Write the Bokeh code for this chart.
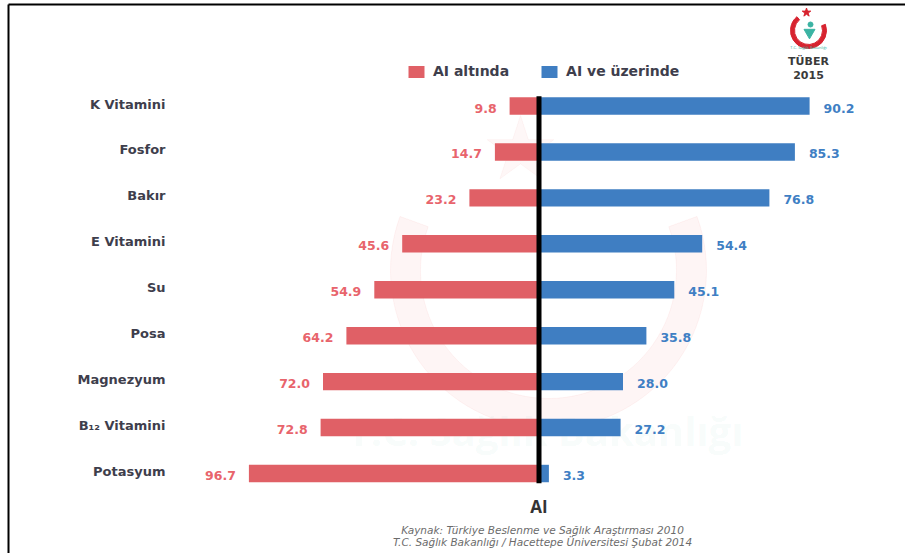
from bokeh.plotting import figure
from bokeh.models import Range1d, Legend, LegendItem
from bokeh.core.properties import value
from bokeh.embed import file_html
from bokeh.resources import INLINE

# ---- data ----
categories = ["K Vitamini", "Fosfor", "Bakır", "E Vitamini", "Su", "Posa",
              "Magnezyum", "B₁₂ Vitamini", "Potasyum"]
below_ai = [9.8, 14.7, 23.2, 45.6, 54.9, 64.2, 72.0, 72.8, 96.7]
above_ai = [90.2, 85.3, 76.8, 54.4, 45.1, 35.8, 28.0, 27.2, 3.3]
series_names = ["AI altında", "AI ve üzerinde"]
axis_title = "AI"
source_lines = ["Kaynak: Türkiye Beslenme ve Sağlık Araştırması 2010",
                "T.C. Sağlık Bakanlığı / Hacettepe Üniversitesi Şubat 2014"]
logo_lines = ["TÜBER", "2015"]

# ---- layout helpers (pixel -> data) ----
W, H = 905, 553
PX = 3.0          # pixels per percentage point
X0 = 538.5        # pixel position of zero
RS = 45.94        # pixels between rows
Y0 = 105.5        # pixel position of first row


def dx(px):
    return (px - X0) / PX


def dy(py):
    return (py - Y0) / RS


FONT = value("DejaVu Sans")
RED = "#e06066"
BLUE = "#3f7ec2"
RED_TXT = "#e8646c"
BLUE_TXT = "#3f7fc4"
DARK = "#3e3e4c"

p = figure(width=W, height=H, output_backend="svg", toolbar_location=None,
           x_axis_type=None, y_axis_type=None,
           x_range=Range1d(dx(0), dx(W)), y_range=Range1d(dy(H), dy(0)),
           min_border=0, outline_line_color=None)
p.grid.visible = False
p.background_fill_color = "white"
p.border_fill_color = "white"

# ---- faint watermark ----
p.annular_wedge(x=dx(548), y=dy(270), inner_radius=128, outer_radius=158,
                inner_radius_units="screen", outer_radius_units="screen",
                start_angle=160, end_angle=20, start_angle_units="deg",
                end_angle_units="deg", direction="anticlock",
                color="#e53935", alpha=0.05)
p.scatter(x=[dx(520)], y=[dy(150)], marker="star", size=70,
          color="#e53935", alpha=0.04)
p.text(x=[dx(545)], y=[dy(430)], text=["T.C. Sağlık Bakanlığı"],
       text_align="center", text_baseline="middle", text_font=value("Open Sans"),
       text_font_style="bold", text_font_size="40px", text_color="#2aa198",
       text_alpha=0.05)

# ---- frame lines ----
p.line(x=[dx(8), dx(W)], y=[dy(4), dy(4)], line_color="black", line_width=2)
p.line(x=[dx(8), dx(8)], y=[dy(4), dy(H)], line_color="black", line_width=2)

ys = list(range(len(categories)))
bar_h = 0.38

r_red = p.hbar(y=ys, left=[-v for v in below_ai], right=0, height=bar_h,
               fill_color=RED, line_color=None)
r_blue = p.hbar(y=ys, left=0, right=above_ai, height=bar_h,
                fill_color=BLUE, line_color=None)

# centre line
p.segment(x0=[0], x1=[0], y0=[ys[0] - bar_h / 2 - 0.02],
          y1=[ys[-1] + bar_h / 2 + 0.02], line_color="black", line_width=5)

# value labels
p.text(x=[-v for v in below_ai], y=ys, text=[f"{v:.1f}" for v in below_ai],
       x_offset=-13, y_offset=2, text_align="right", text_baseline="middle",
       text_font=FONT, text_font_style="bold", text_font_size="12.5px",
       text_color=RED_TXT)
p.text(x=above_ai, y=ys, text=[f"{v:.1f}" for v in above_ai],
       x_offset=14, y_offset=2, text_align="left", text_baseline="middle",
       text_font=FONT, text_font_style="bold", text_font_size="12.5px",
       text_color=BLUE_TXT)

# category labels
p.text(x=[dx(165)] * len(categories), y=ys, text=categories,
       y_offset=-2, text_align="right", text_baseline="middle",
       text_font=FONT, text_font_style="bold", text_font_size="13px",
       text_color=DARK)

# axis title and source
p.text(x=[0], y=[dy(506)], text=[axis_title], text_align="center",
       text_baseline="middle", text_font=value("Open Sans"), text_font_style="bold",
       text_font_size="17px", text_color="#333333")
p.text(x=[dx(542)] * 2, y=[dy(529), dy(541)], text=source_lines,
       text_align="center", text_baseline="middle", text_font=FONT,
       text_font_style="italic", text_font_size="10.5px", text_color="#6b6b6b")

# ---- logo ----
p.annular_wedge(x=dx(808), y=dy(30), inner_radius=14, outer_radius=18,
                inner_radius_units="screen", outer_radius_units="screen",
                start_angle=130, end_angle=20, start_angle_units="deg",
                end_angle_units="deg", direction="anticlock", color="#d7232f")
p.scatter(x=[dx(806)], y=[dy(12)], marker="star", size=9, color="#d7232f")
p.scatter(x=[dx(810)], y=[dy(24)], marker="circle", size=5, color="#3bb3a3")
p.scatter(x=[dx(809)], y=[dy(32)], marker="triangle", size=11, color="#3bb3a3",
          angle=3.14159)
p.text(x=[dx(808)], y=[dy(47)], text=["T.C. Sağlık Bakanlığı"],
       text_align="center", text_baseline="middle", text_font=value("Open Sans"),
       text_font_size="4px", text_color="#3bb3a3")
p.text(x=[dx(808)] * 2, y=[dy(61), dy(74)], text=logo_lines,
       text_align="center", text_baseline="middle", text_font=FONT,
       text_font_style="bold", text_font_size="11px", text_color="#3a3a3a")

# ---- legend ----
legend = Legend(items=[LegendItem(label=series_names[0], renderers=[r_red]),
                       LegendItem(label=series_names[1], renderers=[r_blue])],
                orientation="horizontal", location=(406, H - 79),
                glyph_width=20, glyph_height=15, label_height=15,
                label_standoff=7, spacing=30, padding=0, margin=0,
                border_line_color=None, background_fill_alpha=0,
                label_text_font="DejaVu Sans", label_text_font_style="bold",
                label_text_font_size="14px", label_text_color=DARK,
                label_text_baseline="middle")
p.add_layout(legend)

open("out.html", "w").write(file_html(p, INLINE))
